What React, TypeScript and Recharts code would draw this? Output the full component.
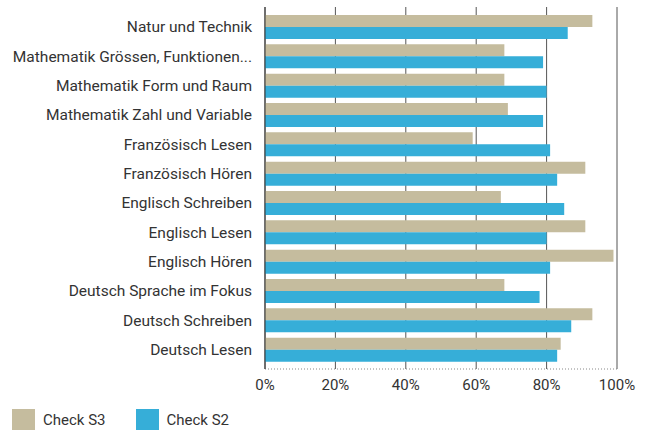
import { BarChart, Bar, XAxis, YAxis, CartesianGrid } from 'recharts'

// Kategorien von oben nach unten
const subjects = [
  'Natur und Technik',
  'Mathematik Grössen, Funktionen...',
  'Mathematik Form und Raum',
  'Mathematik Zahl und Variable',
  'Französisch Lesen',
  'Französisch Hören',
  'Englisch Schreiben',
  'Englisch Lesen',
  'Englisch Hören',
  'Deutsch Sprache im Fokus',
  'Deutsch Schreiben',
  'Deutsch Lesen',
]

// Werte in %
const checkS3 = [93, 68, 68, 69, 59, 91, 67, 91, 99, 68, 93, 84]
const checkS2 = [86, 79, 80, 79, 81, 83, 85, 80, 81, 78, 87, 83]

const xTicks = [0, 20, 40, 60, 80, 100]

const series = [
  { key: 's3', name: 'Check S3', color: '#c5bc9e' },
  { key: 's2', name: 'Check S2', color: '#36aed8' },
]

const FONT = 'Roboto, sans-serif'

export default function App() {
  const data = subjects.map((name, i) => ({ name, s3: checkS3[i], s2: checkS2[i] }))

  return (
    <div style={{ position: 'absolute', left: 0, top: 0, width: 649, height: 430, background: '#fff', fontFamily: FONT, overflow: 'hidden' }}>
      <BarChart
        width={649}
        height={400}
        data={data}
        layout="vertical"
        margin={{ top: 7, right: 32, left: 0, bottom: 0 }}
        barGap={0}
        barSize={12}
      >
        <CartesianGrid horizontal={false} stroke="#555" />
        <XAxis
          type="number"
          domain={[0, 100]}
          ticks={xTicks}
          tickFormatter={(v) => `${v}%`}
          height={31}
          tickLine={false}
          tickSize={0}
          tickMargin={10}
          axisLine={{ stroke: '#888', strokeDasharray: '1 2' }}
          tick={{ fontSize: 15, fill: '#333', fontFamily: FONT }}
        />
        <XAxis
          xAxisId="top"
          orientation="top"
          type="number"
          domain={[0, 100]}
          height={0}
          tick={false}
          tickLine={false}
          axisLine={{ stroke: '#888', strokeDasharray: '1 2' }}
        />
        <YAxis
          type="category"
          dataKey="name"
          width={265}
          tickLine={false}
          tickSize={0}
          tickMargin={13}
          interval={0}
          padding={{ top: 5, bottom: 5 }}
          axisLine={{ stroke: '#333' }}
          tick={{ fontSize: 15.5, fill: '#333', fontFamily: FONT }}
        />
        {series.map((s) => (
          <Bar key={s.key} dataKey={s.key} name={s.name} fill={s.color} isAnimationActive={false} />
        ))}
      </BarChart>

      <div style={{ position: 'absolute', left: 12, top: 409, display: 'flex', alignItems: 'center' }}>
        {series.map((s) => (
          <div key={s.key} style={{ display: 'flex', alignItems: 'center', marginRight: 30 }}>
            <span style={{ display: 'inline-block', width: 23, height: 22, background: s.color, marginRight: 8 }} />
            <span style={{ fontSize: 15, color: '#333' }}>{s.name}</span>
          </div>
        ))}
      </div>
    </div>
  )
}
